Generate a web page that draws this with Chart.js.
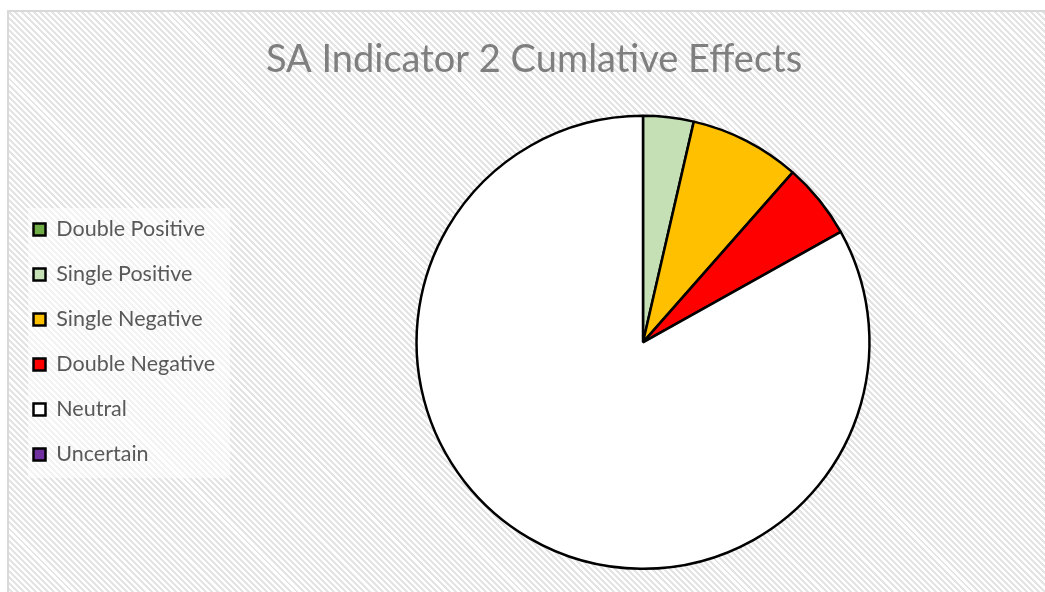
<!DOCTYPE html>
<html>
<head>
<meta charset="utf-8">
<script src="https://cdn.jsdelivr.net/npm/chart.js@4"></script>
<style>
  html, body { margin: 0; padding: 0; background: #fff; }
  #wrap {
    position: absolute; left: 0; top: 0; width: 1045px; height: 592px;
  }
  #frame {
    position: absolute; left: 7px; top: 10px; right: -10px; bottom: -10px;
    border: 2px solid #d9d9d9;
    background: repeating-linear-gradient(45deg, #ffffff 0px, #ffffff 2.2px, #e4e4e4 2.2px, #e4e4e4 4.3px);
  }
  #chart { position: absolute; left: 0; top: 0; }
</style>
</head>
<body>
<div id="wrap">
  <div id="frame"></div>
  <canvas id="chart" width="1045" height="592"></canvas>
</div>
<script>
// カテゴリと値（円グラフの角度から読み取り）
const categories = ['Double Positive', 'Single Positive', 'Single Negative', 'Double Negative', 'Neutral', 'Uncertain'];
const values = [0, 3.6, 7.9, 5.4, 83.1, 0];
const colors = ['#70ad47', '#c5e0b4', '#ffc000', '#ff0000', '#ffffff', '#7030a0'];
const titleText = 'SA Indicator 2 Cumlative Effects';

// 凡例の幅を固定して円の位置を合わせる
const legendWidth = {
    id: 'legendWidth',
    beforeInit(chart) {
        const origFit = chart.legend.fit;
        chart.legend.fit = function () {
            origFit.call(this);
            this.width = 231;
        };
    }
};

// 凡例の背景
const legendBg = {
    id: 'legendBg',
    beforeDraw(chart) {
        const ctx = chart.ctx;
        ctx.save();
        ctx.fillStyle = 'rgba(255,255,255,0.55)';
        ctx.fillRect(28, 208, 202, 270);
        ctx.restore();
    }
};

new Chart(document.getElementById('chart'), {
    type: 'pie',
    data: {
        labels: categories,
        datasets: [{
            data: values,
            backgroundColor: colors,
            borderColor: '#000000',
            borderWidth: 2.5
        }]
    },
    options: {
        responsive: false,
        animation: false,
        layout: { padding: { left: 10, right: -13, top: 0, bottom: 22 } },
        plugins: {
            title: {
                display: true,
                text: titleText,
                color: '#7f7f7f',
                font: { family: 'Lato', size: 38, weight: 'normal' },
                padding: { top: 37, bottom: 32 }
            },
            legend: {
                position: 'left',
                title: {
                    display: true,
                    text: ' ',
                    font: { size: 2, lineHeight: 1 },
                    padding: { top: 112, bottom: 0 }
                },
                labels: {
                    color: '#595959',
                    font: { family: 'Lato', size: 21.5 },
                    boxWidth: 12,
                    boxHeight: 12,
                    padding: 23.5
                }
            },
            tooltip: { enabled: false }
        }
    },
    plugins: [legendWidth, legendBg]
});
</script>
</body>
</html>
